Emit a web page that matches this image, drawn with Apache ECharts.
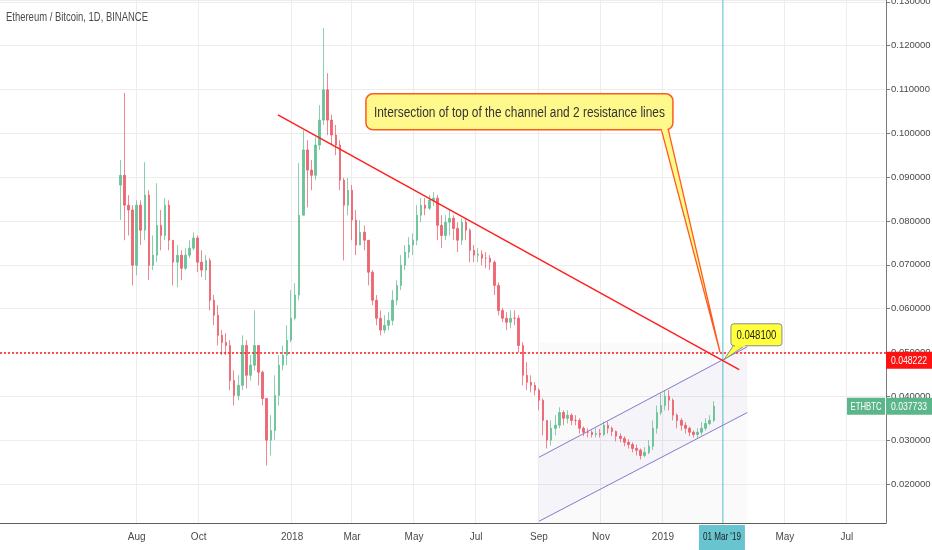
<!DOCTYPE html>
<html style="height: 100%; width: 100%;">
<head>
    <meta charset="utf-8">
    <title>Ethereum / Bitcoin, 1D, BINANCE</title>
    <script src="https://cdn.jsdelivr.net/npm/echarts@6/dist/echarts.min.js"></script>
    <style>
        body, html {
            margin: 0;
            padding: 0;
            width: 100%;
            height: 100%;
            background: #fff;
            overflow: hidden;
        }
        #main {
            width: 932px;
            height: 550px;
        }
    </style>
</head>
<body>
<div id="main"></div>
<script type="text/javascript">
    // x axis runs day by day, candles are 4-day bars
    var axisStart = '2017-03-20';
    var axisDays = 872;
    var candleStart = '2017-07-16';
    var candleStep = 4;
    var open0 = 0.0882;

    var closes = [
        0.0904, 0.0836, 0.0825, 0.0699, 0.0836, 0.0779, 0.0859, 0.0699, 0.0722, 0.0790,
        0.0767, 0.0836, 0.0756, 0.0706, 0.0722, 0.0692, 0.0722, 0.0738, 0.0761, 0.0706,
        0.0688, 0.0710, 0.0619, 0.0585, 0.0539, 0.0523, 0.0516, 0.0436, 0.0402, 0.0425,
        0.0516, 0.0448, 0.0471, 0.0516, 0.0455, 0.0395, 0.0300, 0.0322, 0.0402, 0.0471,
        0.0494, 0.0528, 0.0578, 0.0631, 0.0813, 0.0962, 0.0916, 0.0904, 0.0973, 0.1030,
        0.1099, 0.1030, 0.0996, 0.0973, 0.0893, 0.0836, 0.0870, 0.0802, 0.0745, 0.0774,
        0.0756, 0.0683, 0.0619, 0.0578, 0.0551, 0.0562, 0.0573, 0.0619, 0.0653, 0.0699,
        0.0729, 0.0745, 0.0756, 0.0813, 0.0836, 0.0829, 0.0847, 0.0852, 0.0790, 0.0767,
        0.0797, 0.0806, 0.0783, 0.0756, 0.0797, 0.0779, 0.0733, 0.0722, 0.0724, 0.0715,
        0.0715, 0.0706, 0.0653, 0.0596, 0.0578, 0.0569, 0.0578, 0.0578, 0.0516, 0.0448,
        0.0432, 0.0425, 0.0414, 0.0391, 0.0345, 0.0300, 0.0327, 0.0334, 0.0363, 0.0350,
        0.0357, 0.0345, 0.0345, 0.0327, 0.0318, 0.0318, 0.0313, 0.0315, 0.0313, 0.0334,
        0.0327, 0.0320, 0.0309, 0.0304, 0.0295, 0.0290, 0.0281, 0.0277, 0.0265, 0.0272,
        0.0286, 0.0327, 0.0363, 0.0379, 0.0400, 0.0391, 0.0357, 0.0345, 0.0334, 0.0327,
        0.0318, 0.0313, 0.0318, 0.0327, 0.0338, 0.0345, 0.037733
    ];
    var highs = [
        0.0939, 0.1092, 0.0859, 0.0836, 0.0847, 0.0847, 0.0934, 0.0870, 0.0767, 0.0886,
        0.0825, 0.0852, 0.0847, 0.0756, 0.0745, 0.0733, 0.0738, 0.0756, 0.0774, 0.0767,
        0.0733, 0.0722, 0.0715, 0.0631, 0.0608, 0.0551, 0.0544, 0.0528, 0.0459, 0.0448,
        0.0539, 0.0528, 0.0494, 0.0596, 0.0516, 0.0459, 0.0395, 0.0357, 0.0448, 0.0494,
        0.0516, 0.0562, 0.0642, 0.0658, 0.0932, 0.1007, 0.0984, 0.0939, 0.0991, 0.1064,
        0.1240, 0.1137, 0.1042, 0.1019, 0.0984, 0.0898, 0.0898, 0.0882, 0.0825, 0.0802,
        0.0790, 0.0756, 0.0688, 0.0631, 0.0596, 0.0585, 0.0592, 0.0642, 0.0665, 0.0722,
        0.0745, 0.0763, 0.0772, 0.0836, 0.0852, 0.0852, 0.0859, 0.0866, 0.0859, 0.0813,
        0.0813, 0.0825, 0.0813, 0.0797, 0.0806, 0.0806, 0.0783, 0.0745, 0.0738, 0.0733,
        0.0729, 0.0722, 0.0710, 0.0660, 0.0601, 0.0592, 0.0596, 0.0596, 0.0585, 0.0523,
        0.0478, 0.0448, 0.0432, 0.0418, 0.0395, 0.0345, 0.0345, 0.0357, 0.0375, 0.0368,
        0.0368, 0.0361, 0.0357, 0.0350, 0.0331, 0.0327, 0.0322, 0.0327, 0.0325, 0.0343,
        0.0343, 0.0331, 0.0322, 0.0315, 0.0309, 0.0302, 0.0295, 0.0290, 0.0281, 0.0284,
        0.0300, 0.0345, 0.0379, 0.0407, 0.0414, 0.0414, 0.0395, 0.0361, 0.0350, 0.0341,
        0.0331, 0.0322, 0.0327, 0.0341, 0.0350, 0.0357, 0.0389
    ];
    var lows = [
        0.0802, 0.0756, 0.0767, 0.0653, 0.0676, 0.0745, 0.0756, 0.0665, 0.0688, 0.0706,
        0.0733, 0.0756, 0.0733, 0.0653, 0.0649, 0.0665, 0.0688, 0.0715, 0.0733, 0.0683,
        0.0672, 0.0665, 0.0596, 0.0562, 0.0516, 0.0494, 0.0494, 0.0414, 0.0379, 0.0391,
        0.0414, 0.0418, 0.0436, 0.0459, 0.0425, 0.0379, 0.0242, 0.0265, 0.0300, 0.0379,
        0.0459, 0.0471, 0.0523, 0.0573, 0.0619, 0.0813, 0.0831, 0.0870, 0.0893, 0.0962,
        0.1019, 0.0996, 0.0973, 0.0950, 0.0870, 0.0710, 0.0813, 0.0756, 0.0722, 0.0745,
        0.0733, 0.0653, 0.0608, 0.0562, 0.0539, 0.0544, 0.0551, 0.0562, 0.0608, 0.0642,
        0.0688, 0.0715, 0.0722, 0.0745, 0.0797, 0.0813, 0.0825, 0.0834, 0.0756, 0.0738,
        0.0756, 0.0767, 0.0756, 0.0729, 0.0745, 0.0756, 0.0706, 0.0706, 0.0706, 0.0699,
        0.0692, 0.0688, 0.0631, 0.0585, 0.0569, 0.0551, 0.0555, 0.0562, 0.0500, 0.0425,
        0.0414, 0.0409, 0.0402, 0.0368, 0.0311, 0.0281, 0.0288, 0.0311, 0.0327, 0.0334,
        0.0338, 0.0334, 0.0334, 0.0315, 0.0309, 0.0306, 0.0306, 0.0306, 0.0306, 0.0309,
        0.0315, 0.0309, 0.0297, 0.0295, 0.0286, 0.0281, 0.0272, 0.0265, 0.0256, 0.0261,
        0.0268, 0.0277, 0.0315, 0.0357, 0.0368, 0.0368, 0.0345, 0.0327, 0.0322, 0.0315,
        0.0309, 0.0306, 0.0304, 0.0311, 0.0322, 0.0334, 0.0341
    ];

    var tickDates = ['2017-08-01', '2017-10-01', '2018-01-01', '2018-03-01', '2018-05-01', '2018-07-01',
        '2018-09-01', '2018-11-01', '2019-01-01', '2019-03-01', '2019-05-01', '2019-07-01'];
    var tickLabels = ['Aug', 'Oct', '2018', 'Mar', 'May', 'Jul', 'Sep', 'Nov', '2019', '', 'May', 'Jul'];

    // drawings
    var resistanceLine = [['2017-12-18', 0.1042], ['2019-03-17', 0.0461]];
    var channelTop = [['2018-09-01', 0.0261], ['2019-03-25', 0.0513]];
    var channelBottom = [['2018-09-01', 0.0115], ['2019-03-25', 0.0363]];
    var levelPrice = 0.048222;
    var lastPrice = 0.037733;
    var markDate = '2019-03-01';
    var markDateLabel = "01 Mar '19";
    var markValue = 0.0481;
    var titleText = 'Ethereum / Bitcoin, 1D, BINANCE';
    var calloutText = 'Intersection of top of the channel and 2 resistance lines';

    var yMin = 0.0111, yMax = 0.1304;
    var gridRight = 46, gridBottom = 27;
    var sans = "'Liberation Sans', Arial, sans-serif";

    var days = [];
    var t0 = Date.parse(axisStart + 'T00:00:00Z');
    for (var i = 0; i < axisDays; i++) {
        days.push(new Date(t0 + i * 864e5).toISOString().slice(0, 10));
    }

    var candles = days.map(function () { return '-'; });
    var c0 = days.indexOf(candleStart);
    var prev = open0;
    for (var k = 0; k < closes.length; k++) {
        candles[c0 + k * candleStep] = [prev, closes[k], lows[k], highs[k]];
        prev = closes[k];
    }

    var tickMap = {};
    tickDates.forEach(function (d, i) { tickMap[d] = tickLabels[i]; });
    var onTick = function (idx, value) { return tickMap.hasOwnProperty(value); };

    // the reference uses a narrow face; squeeze Liberation Sans to the same width
    var mctx = document.createElement('canvas').getContext('2d');
    function squeeze(text, font, width) {
        mctx.font = font;
        return width / mctx.measureText(text).width;
    }

    var chart = echarts.init(document.getElementById('main'));

    var option = {
        animation: false,
        backgroundColor: '#ffffff',
        grid: { left: 0, right: gridRight, top: 0, bottom: gridBottom, outerBoundsMode: 'none', containLabel: false },
        xAxis: {
            type: 'category',
            data: days,
            boundaryGap: true,
            axisLine: { lineStyle: { color: '#5d5d5d', width: 1 } },
            axisTick: { interval: onTick, alignWithLabel: true, length: 4, lineStyle: { color: '#5d5d5d' } },
            axisLabel: {
                interval: onTick,
                formatter: function (v) { return tickMap[v] || ''; },
                color: '#4a4a4a',
                fontSize: 10,
                fontFamily: sans,
                margin: 9
            },
            splitLine: { show: true, interval: onTick, lineStyle: { color: '#ededed' } }
        },
        yAxis: {
            type: 'value',
            position: 'right',
            min: yMin,
            max: yMax,
            splitNumber: 12,
            scale: true,
            axisLine: { show: true, lineStyle: { color: '#7a7a7a' } },
            axisTick: { show: true, length: 4, lineStyle: { color: '#7a7a7a' } },
            axisLabel: {
                color: '#4a4a4a',
                fontSize: 9.5,
                fontFamily: sans,
                margin: 5,
                showMinLabel: false,
                showMaxLabel: false,
                formatter: function (v) { return v.toFixed(6); }
            },
            splitLine: { show: true, lineStyle: { color: '#ededed' } }
        },
        series: [
            {
                type: 'custom',
                silent: true,
                z: 1,
                data: [[0, 0]],
                renderItem: function (params, api) {
                    var a = api.coord(channelTop[0]);
                    var b = api.coord(channelTop[1]);
                    var c = api.coord(channelBottom[1]);
                    var d = api.coord(channelBottom[0]);
                    var base = api.coord([channelTop[0][0], yMin]);
                    return {
                        type: 'group',
                        children: [
                            {
                                type: 'rect',
                                shape: { x: a[0], y: b[1] - 4, width: b[0] - a[0], height: base[1] - b[1] + 4 },
                                style: { fill: 'rgba(120,120,140,0.035)' }
                            },
                            {
                                type: 'polygon',
                                shape: { points: [a, b, c, d] },
                                style: { fill: 'rgba(120,110,170,0.04)' }
                            }
                        ]
                    };
                }
            },
            {
                // vertical marker on 01 Mar '19
                type: 'line',
                data: [[markDate, yMin], [markDate, yMax]],
                showSymbol: false,
                silent: true,
                z: 2,
                lineStyle: { color: '#5cc6d2', width: 1 }
            },
            {
                type: 'candlestick',
                data: candles,
                large: false,
                barWidth: 2,
                z: 3,
                itemStyle: {
                    color: '#53b987',
                    color0: '#eb4d5c',
                    borderColor: '#53b987',
                    borderColor0: '#eb4d5c',
                    borderWidth: 0.8,
                    opacity: 0.85
                },
                markLine: {
                    silent: true,
                    symbol: ['none', 'none'],
                    label: { show: false },
                    data: [
                        { yAxis: levelPrice, lineStyle: { color: '#ff1a1a', type: [2, 2], width: 1.5, opacity: 1 } }
                    ]
                }
            },
            {
                type: 'line',
                data: resistanceLine,
                showSymbol: false,
                silent: true,
                z: 5,
                lineStyle: { color: '#ff1f1f', width: 1.5 }
            },
            {
                type: 'line',
                data: channelTop,
                showSymbol: false,
                silent: true,
                z: 4,
                lineStyle: { color: '#8677cf', width: 1 }
            },
            {
                type: 'line',
                data: channelBottom,
                showSymbol: false,
                silent: true,
                z: 4,
                lineStyle: { color: '#8677cf', width: 1 }
            }
        ]
    };

    chart.setOption(option);

    // labels and callouts placed from the axes
    var toPx = function (d, v) { return chart.convertToPixel({ gridIndex: 0 }, [d, v]); };
    var A = toPx(markDate, markValue);
    var yLevel = toPx(markDate, levelPrice)[1];
    var yLast = toPx(markDate, lastPrice)[1];
    var axisX = chart.getWidth() - gridRight;
    var bottomY = chart.getHeight() - gridBottom;

    var bx = A[0] - 357, by = A[1] - 267, bw = 307, bh = 36;
    var sx = A[0] + 8, sy = A[1] - 37, sw = 51, sh = 22;

    var titleFont = '13px ' + sans;
    var calloutFont = '14px ' + sans;
    var tagFont = '11px ' + sans;

    function tagText(x, y, text, color, width) {
        return {
            type: 'text', z: 101, x: x, y: y,
            scaleX: Math.min(1, squeeze(text, tagFont, width)),
            style: { text: text, fill: color, font: tagFont, align: 'center', verticalAlign: 'middle' }
        };
    }

    chart.setOption({
        graphic: [
            {
                type: 'text', z: 50, x: 6, y: 17,
                scaleX: squeeze(titleText, titleFont, 142),
                style: { text: titleText, fill: '#4a4a4a', font: titleFont, align: 'left', verticalAlign: 'middle' }
            },
            // big callout
            {
                type: 'polygon', z: 100,
                shape: { points: [[A[0] - 62, by + bh - 2], [A[0] - 55, by + bh - 2], [A[0] - 3, A[1] - 9]] },
                style: { fill: '#fff98c', stroke: '#ff5a1e', lineWidth: 1.3 }
            },
            {
                type: 'rect', z: 101,
                shape: { x: bx, y: by, width: bw, height: bh, r: 7 },
                style: { fill: '#fff98c', stroke: '#ff5a1e', lineWidth: 1.5 }
            },
            {
                type: 'rect', z: 102,
                shape: { x: A[0] - 61, y: by + bh - 2, width: 5.5, height: 3.5 },
                style: { fill: '#fff98c' }
            },
            {
                type: 'text', z: 103,
                x: bx + bw / 2, y: by + bh / 2 + 1,
                scaleX: squeeze(calloutText, calloutFont, 291),
                style: { text: calloutText, fill: '#333333', font: calloutFont, align: 'center', verticalAlign: 'middle' }
            },
            // small callout with the level
            {
                type: 'polygon', z: 100,
                shape: { points: [[A[0] + 11, sy + sh - 1], [A[0] + 23, sy + sh - 1], [A[0] + 1, A[1] - 1]] },
                style: { fill: '#ffff3c', stroke: '#8c8c8c', lineWidth: 1 }
            },
            {
                type: 'rect', z: 101,
                shape: { x: sx, y: sy, width: sw, height: sh, r: 3 },
                style: { fill: '#ffff3c', stroke: '#8c8c8c', lineWidth: 1 }
            },
            {
                type: 'rect', z: 102,
                shape: { x: A[0] + 12, y: sy + sh - 1.5, width: 10, height: 2.5 },
                style: { fill: '#ffff3c' }
            },
            {
                type: 'text', z: 103,
                x: sx + sw / 2, y: sy + sh / 2 + 1,
                scaleX: squeeze(markValue.toFixed(6), '12px ' + sans, 40),
                style: { text: markValue.toFixed(6), fill: '#222222', font: '12px ' + sans, align: 'center', verticalAlign: 'middle' }
            },
            // level price tag
            {
                type: 'rect', z: 100,
                shape: { x: axisX, y: yLevel - 8.5, width: 46, height: 17 },
                style: { fill: '#ff1111' }
            },
            tagText(axisX + 23, yLevel + 0.5, levelPrice.toFixed(6), '#ffffff', 36),
            // last price tag
            {
                type: 'rect', z: 100,
                shape: { x: axisX - 39, y: yLast - 8.5, width: 38, height: 17 },
                style: { fill: '#5cb68c' }
            },
            tagText(axisX - 20, yLast + 0.5, 'ETHBTC', '#ffffff', 31),
            {
                type: 'rect', z: 100,
                shape: { x: axisX, y: yLast - 8.5, width: 46, height: 17 },
                style: { fill: '#5cb68c' }
            },
            tagText(axisX + 23, yLast + 0.5, lastPrice.toFixed(6), '#ffffff', 36),
            // date tag under the vertical line
            {
                type: 'rect', z: 100,
                shape: { x: A[0] - 24, y: bottomY + 2, width: 46, height: 25 },
                style: { fill: '#68c5d0' }
            },
            tagText(A[0] - 1, bottomY + 14, markDateLabel, '#1e1e1e', 38)
        ]
    });
</script>
</body>
</html>
